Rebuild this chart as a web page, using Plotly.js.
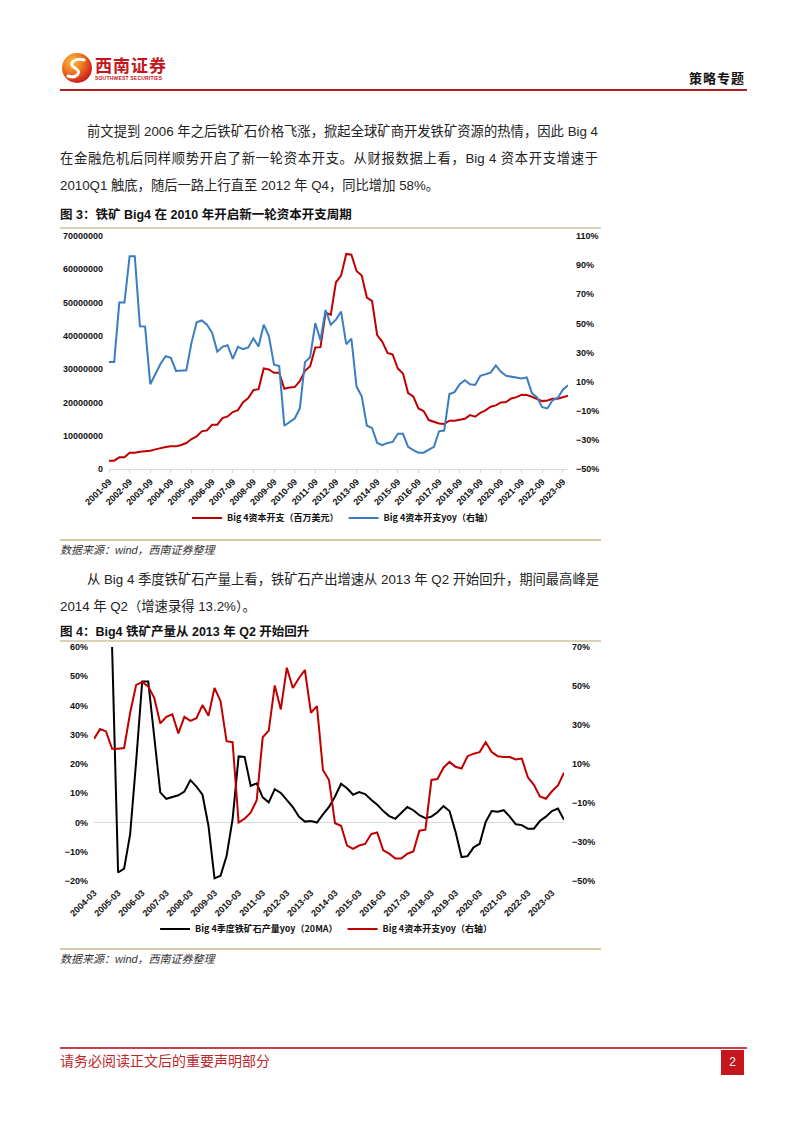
<!DOCTYPE html>
<html>
<head>
<meta charset="utf-8">
<script src="https://cdn.plot.ly/plotly-3.0.1.min.js"></script>
<style>
  html, body { margin:0; padding:0; background:#fff; }
  #page { position:relative; width:802px; height:1133px; overflow:hidden; background:#fff;
          font-family:"Liberation Sans","Noto Sans CJK SC",sans-serif; color:#222; }
  .abs { position:absolute; }
  .line { position:absolute; left:60px; width:538px; height:27px; line-height:27px; font-size:13.3px;
          white-space:nowrap; color:#222; }
  .just { text-align:justify; text-align-last:justify; }
  .indent { padding-left:27px; width:511px; }
  .figtitle { position:absolute; left:60px; font-size:12.5px; font-weight:bold; color:#111; white-space:nowrap; line-height:16px; }
  .src { position:absolute; left:60px; font-size:11px; font-style:italic; color:#333; white-space:nowrap; line-height:14px; }
  .rule { position:absolute; left:60px; width:541px; height:1.5px; background:#d9d2b4; }
</style>
</head>
<body>
<div id="page">
  <!-- header -->
  <svg class="abs" style="left:61px;top:52px" width="32" height="32" viewBox="0 0 32 32">
    <defs>
      <radialGradient id="lg" cx="35%" cy="30%" r="75%">
        <stop offset="0%" stop-color="#f9c23c"/>
        <stop offset="45%" stop-color="#ee7a22"/>
        <stop offset="100%" stop-color="#c8161d"/>
      </radialGradient>
    </defs>
    <circle cx="16" cy="16" r="15" fill="url(#lg)"/>
    <path d="M23 8 C 14 5, 6 12, 14 16 C 22 20, 15 27, 7 24" stroke="#fff" stroke-width="3" fill="none" stroke-linecap="round"/>
  </svg>
  <div class="abs" style="left:95px;top:55px;font-size:17px;font-weight:bold;color:#c4161c;letter-spacing:1px;font-family:'Noto Sans CJK SC';line-height:20px;">西南证券</div>
  <div class="abs" style="left:95px;top:75px;font-size:5px;font-weight:bold;color:#c4161c;letter-spacing:0.2px;line-height:6px;">SOUTHWEST SECURITIES</div>
  <div class="abs" style="right:57px;top:70px;font-size:13px;font-weight:bold;color:#111;font-family:'Noto Sans CJK SC';line-height:16px;letter-spacing:1px;">策略专题</div>
  <div class="abs" style="left:60px;top:89px;width:687px;height:2px;background:#b01f24;"></div>

  <!-- paragraph 1 -->
  <div class="line just indent" style="top:118px;">前文提到 2006 年之后铁矿石价格飞涨，掀起全球矿商开发铁矿资源的热情，因此 Big 4</div>
  <div class="line just" style="top:145px;">在金融危机后同样顺势开启了新一轮资本开支。从财报数据上看，Big 4 资本开支增速于</div>
  <div class="line" style="top:172px;">2010Q1 触底，随后一路上行直至 2012 年 Q4，同比增加 58%。</div>

  <div class="figtitle" style="top:207px;">图 3：铁矿 Big4 在 2010 年开启新一轮资本开支周期</div>
  <div class="rule" style="top:227px;"></div>
  <div id="chart1" class="abs" style="left:60px;top:229px;width:548px;height:310px;"></div>
  <div class="rule" style="top:539px;background:#d3c9a2;"></div>
  <div class="src" style="top:543px;">数据来源：wind，西南证券整理</div>

  <!-- paragraph 2 -->
  <div class="line just indent" style="top:566px;">从 Big 4 季度铁矿石产量上看，铁矿石产出增速从 2013 年 Q2 开始回升，期间最高峰是</div>
  <div class="line" style="top:593px;">2014 年 Q2（增速录得 13.2%）。</div>

  <div class="figtitle" style="top:624px;">图 4：Big4 铁矿产量从 2013 年 Q2 开始回升</div>
  <div class="rule" style="top:640px;"></div>
  <div id="chart2" class="abs" style="left:60px;top:641px;width:548px;height:308px;"></div>
  <div class="rule" style="top:948px;background:#d3c9a2;"></div>
  <div class="src" style="top:952px;">数据来源：wind，西南证券整理</div>

  <!-- footer -->
  <div class="abs" style="left:60px;top:1047px;width:687px;height:1.5px;background:#c9404a;"></div>
  <div class="abs" style="left:60px;top:1051px;font-size:14px;color:#c0272d;font-family:'Noto Sans CJK SC';line-height:18px;">请务必阅读正文后的重要声明部分</div>
  <div class="abs" style="left:721px;top:1050px;width:23px;height:25px;background:#c4161c;color:#fff;font-size:12px;line-height:25px;text-align:center;">2</div>
</div>

<script>
// ---------- Figure 3 data (quarterly, 2001-09 .. 2023-12) ----------
const capexUSD1 = [
  2500000, 2500000, 3500000, 3500000, 4900000, 4900000, 5200000, 5300000, 5500000, 5900000,
  6300000, 6600000, 6800000, 6800000, 7200000, 7800000, 9000000, 9800000, 11300000, 11600000,
  13300000, 13300000, 15300000, 15800000, 17100000, 17700000, 20100000, 21300000, 23700000, 24000000,
  30200000, 29900000, 28900000, 28900000, 24100000, 24500000, 24600000, 26400000, 29500000, 30900000,
  36500000, 36600000, 47000000, 46300000, 56100000, 58100000, 64600000, 64400000, 59500000, 58100000,
  51500000, 50500000, 40200000, 38200000, 34900000, 34400000, 30200000, 28700000, 22800000, 21800000,
  18200000, 17400000, 14700000, 14200000, 13700000, 13500000, 14500000, 14500000, 14800000, 15100000,
  16200000, 15700000, 16900000, 17600000, 18700000, 19100000, 20000000, 20100000, 21200000, 21600000,
  22300000, 22200000, 21700000, 21100000, 20400000, 20600000, 21100000, 21100000, 21600000, 22000000
];
const capexYoy1 = [
  23.4, 23.4, 64.3, 64.3, 96.1, 96.1, 48.0, 47.8, 8.2, 15.6,
  22.3, 27.4, 26.3, 17.3, 17.3, 17.8, 36.8, 50.7, 52.0, 49.1,
  43.5, 30.6, 33.9, 35.0, 25.6, 33.9, 32.3, 33.5, 39.7, 34.1,
  49.1, 41.3, 21.6, 20.7, -20.3, -18.0, -15.3, -8.4, 23.4, 26.7,
  50.2, 38.4, 59.2, 49.1, 52.5, 58.1, 35.7, 39.5, 6.6, -0.1,
  -20.3, -21.8, -32.1, -33.7, -32.1, -31.4, -25.8, -25.8, -34.8, -37.0,
  -38.8, -38.8, -37.0, -34.8, -24.1, -23.6, 1.5, 2.8, 8.2, 10.9,
  8.2, 7.7, 14.0, 14.9, 16.2, 21.2, 16.7, 14.0, 13.3, 12.9,
  12.2, 12.9, 2.1, -0.8, -7.5, -8.4, -2.8, -1.2, 4.5, 7.5
];
const tickLabels1 = ['2001-09','2002-09','2003-09','2004-09','2005-09','2006-09','2007-09','2008-09',
  '2009-09','2010-09','2011-09','2012-09','2013-09','2014-09','2015-09','2016-09','2017-09','2018-09',
  '2019-09','2020-09','2021-09','2022-09','2023-09'];

// ---------- Figure 4 data (quarterly, 2004-03 .. 2023-09) ----------
const ironOreYoy2 = [
  null, null, null, 60, -17.1, -15.8, -4.0, 21.0, 48.2, 48.2,
  29.1, 10.3, 8.1, 8.7, 9.3, 10.6, 14.5, 12.3, 9.5, -1.2,
  -19.1, -18.2, -11.5, 1.1, 22.6, 22.4, 12.5, 13.4, 8.6, 6.9,
  11.4, 10.1, 7.8, 5.3, 2.0, 0.3, 0.5, 0.0, 2.8, 5.3,
  8.9, 13.2, 11.7, 9.5, 10.4, 9.7, 7.8, 6.1, 3.9, 2.2,
  1.3, 3.3, 5.3, 4.2, 2.5, 1.5, 2.0, 3.5, 5.6, 3.9,
  -3.2, -11.8, -11.5, -8.5, -7.3, 0.2, 3.9, 3.7, 4.2, 2.0,
  -0.6, -0.9, -2.1, -2.1, 0.5, 2.0, 3.9, 4.8, 0.9
];
const capexYoy2 = [
  22.9, 27.9, 26.7, 17.8, 17.8, 18.2, 36.3, 50.6, 52.0, 49.8,
  43.9, 30.8, 34.2, 35.5, 25.7, 34.2, 32.1, 33.5, 40.2, 34.7,
  49.0, 42.2, 21.7, 21.2, -20.0, -18.0, -15.0, -8.6, 23.7, 27.1,
  50.3, 38.0, 59.4, 49.0, 54.0, 58.2, 36.3, 39.7, 6.9, 1.8,
  -20.4, -21.7, -31.8, -33.5, -31.8, -31.0, -25.9, -25.1, -34.3, -36.0,
  -38.5, -38.5, -36.0, -34.9, -24.2, -23.7, 1.8, 2.3, 8.1, 11.1,
  8.6, 7.7, 14.0, 15.3, 16.1, 21.2, 16.1, 14.0, 13.6, 13.6,
  12.3, 12.8, 3.2, -0.7, -6.6, -7.8, -4.0, -1.0, 5.5
];
const tickLabels2 = ['2004-03','2005-03','2006-03','2007-03','2008-03','2009-03','2010-03','2011-03',
  '2012-03','2013-03','2014-03','2015-03','2016-03','2017-03','2018-03','2019-03','2020-03','2021-03',
  '2022-03','2023-03'];

// quarter category labels
function quarterCats(year, month, n) {
  const out = [];
  for (let i = 0; i < n; i++) {
    out.push(year + '-' + String(month).padStart(2, '0'));
    month += 3; if (month > 12) { month -= 12; year += 1; }
  }
  return out;
}
const quarters1 = quarterCats(2001, 9, capexUSD1.length);
const quarters2 = quarterCats(2004, 3, capexYoy2.length);

const RED = '#c00000', BLUE = '#3a7dc0', BLACK = '#000000';
const tickFont = {family:'Liberation Sans, Arial, sans-serif', size:9, color:'#111', weight:'bold'};
const legFont = {family:'Noto Sans CJK SC, Liberation Sans, sans-serif', size:9, color:'#111'};

// ---------- Chart 1 ----------
Plotly.newPlot('chart1', [
  {x:quarters1, y:capexUSD1, type:'scatter', mode:'lines', name:'Big 4资本开支（百万美元）',
   line:{color:RED, width:2}, yaxis:'y'},
  {x:quarters1, y:capexYoy1, type:'scatter', mode:'lines', name:'Big 4资本开支yoy（右轴）',
   line:{color:BLUE, width:2}, yaxis:'y2'}
], {
  width:548, height:310,
  margin:{l:49, r:40, t:7, b:65.5},
  paper_bgcolor:'rgba(0,0,0,0)', plot_bgcolor:'rgba(0,0,0,0)',
  font:tickFont,
  showlegend:true,
  legend:{orientation:'h', x:0.17, xanchor:'left', y:-0.21, yanchor:'middle', font:legFont,
          bgcolor:'rgba(0,0,0,0)', itemwidth:30, tracegroupgap:0},
  xaxis:{type:'category', range:[0, quarters1.length - 1], tickmode:'array', tickvals:tickLabels1, ticktext:tickLabels1,
         tickangle:-45, showgrid:false, zeroline:false, showline:true, linecolor:'#d9d9d9', linewidth:1,
         ticks:'outside', ticklen:3, tickcolor:'#d9d9d9', tickfont:tickFont},
  yaxis:{range:[0, 70000000], tick0:0, dtick:10000000, tickformat:'d', showgrid:false, zeroline:false,
         showline:false, ticks:'', ticklabelstandoff:5, tickfont:tickFont},
  yaxis2:{overlaying:'y', side:'right', range:[-50, 110], tick0:10, dtick:20, ticksuffix:'%', showgrid:false,
          zeroline:false, showline:false, ticks:'', ticklabelstandoff:7, tickfont:tickFont}
}, {staticPlot:true, displayModeBar:false});

// ---------- Chart 2 ----------
Plotly.newPlot('chart2', [
  {x:quarters2, y:ironOreYoy2, type:'scatter', mode:'lines', name:'Big 4季度铁矿石产量yoy（20MA）',
   line:{color:BLACK, width:2}, yaxis:'y', connectgaps:false},
  {x:quarters2, y:capexYoy2, type:'scatter', mode:'lines', name:'Big 4资本开支yoy（右轴）',
   line:{color:RED, width:2}, yaxis:'y2'}
], {
  width:548, height:308,
  margin:{l:34.3, r:43.7, t:5.7, b:64.7},
  paper_bgcolor:'rgba(0,0,0,0)', plot_bgcolor:'rgba(0,0,0,0)',
  font:tickFont,
  showlegend:true,
  legend:{orientation:'h', x:0.13, xanchor:'left', y:-0.205, yanchor:'middle', font:legFont,
          bgcolor:'rgba(0,0,0,0)', itemwidth:30},
  xaxis:{type:'category', range:[0, quarters2.length - 1], tickmode:'array', tickvals:tickLabels2, ticktext:tickLabels2,
         tickangle:-45, showgrid:false, zeroline:false, showline:false, ticks:'', ticklabelstandoff:4, tickfont:tickFont},
  yaxis:{range:[-20, 60], tick0:0, dtick:10, ticksuffix:'%', showgrid:false, zeroline:true, zerolinecolor:'#d9d9d9',
         zerolinewidth:1.5, showline:false, ticks:'', ticklabelstandoff:5, tickfont:tickFont},
  yaxis2:{overlaying:'y', side:'right', range:[-50, 70], tick0:10, dtick:20, ticksuffix:'%', showgrid:false,
          zeroline:false, showline:false, ticks:'', ticklabelstandoff:7, tickfont:tickFont}
}, {staticPlot:true, displayModeBar:false});
</script>
</body>
</html>
